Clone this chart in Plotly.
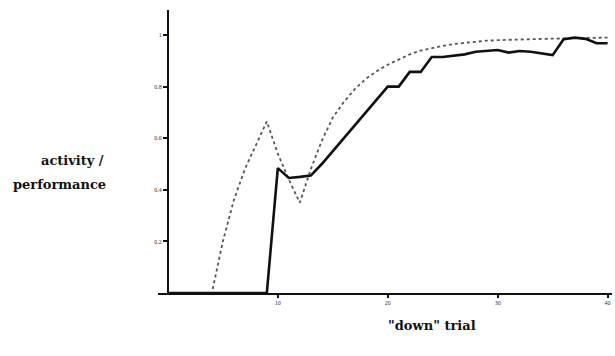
import plotly.graph_objects as go

trials_perf = list(range(0, 41))
performance = [0, 0, 0, 0, 0, 0, 0, 0, 0, 0,
               0.484, 0.446, 0.45, 0.455, 0.50, 0.55, 0.60, 0.65, 0.70, 0.75,
               0.80, 0.80, 0.857, 0.857, 0.915, 0.915, 0.92, 0.925, 0.935, 0.938,
               0.942, 0.932, 0.938, 0.935, 0.928, 0.922, 0.984, 0.99, 0.985, 0.968, 0.968]

trials_act = list(range(0, 41))
activity = [0, 0, 0, 0, 0, 0.2, 0.36, 0.48, 0.57, 0.665,
            0.54, 0.44, 0.35, 0.48, 0.59, 0.68, 0.74, 0.79, 0.83, 0.86,
            0.885, 0.905, 0.925, 0.94, 0.95, 0.958, 0.965, 0.97, 0.975, 0.978,
            0.98, 0.982, 0.983, 0.984, 0.985, 0.986, 0.987, 0.988, 0.989, 0.99, 0.99]

x_ticks = [10, 20, 30, 40]
y_ticks = [0.2, 0.4, 0.6, 0.8, 1]
y_tick_text = ["0.2", "0.4", "0.6", "0.8", "1"]

ink = "#111111"
label_font = dict(family="DejaVu Serif", size=13, color=ink, weight="bold")
fig = go.Figure()
fig.add_trace(go.Scatter(x=trials_act, y=activity, mode="lines",
                         line=dict(color="#555", width=1.8, dash="dot"),
                         showlegend=False))
fig.add_trace(go.Scatter(x=trials_perf, y=performance, mode="lines",
                         line=dict(color=ink, width=2.6),
                         showlegend=False))

xmin, xmax = -0.9, 40.4
fig.update_layout(
    width=615, height=356,
    margin=dict(l=158, r=3, t=10, b=63),
    plot_bgcolor="white", paper_bgcolor="white",
    font=dict(family="Liberation Serif", color=ink),
    xaxis=dict(range=[xmin, xmax], showgrid=False, zeroline=False,
               showline=True, linecolor=ink, linewidth=1.8,
               tickvals=x_ticks, ticks="outside", ticklen=3, tickcolor=ink,
               tickwidth=1.5, tickfont=dict(size=6, color="#333")),
    yaxis=dict(range=[0, 1.097], showgrid=False, zeroline=False,
               anchor="free", position=(0 - xmin) / (xmax - xmin),
               showline=True, linecolor=ink, linewidth=2,
               tickvals=y_ticks, ticktext=y_tick_text, ticks="outside",
               ticklen=4, tickcolor=ink, tickwidth=1.5,
               tickfont=dict(size=6, color="#333")),
    annotations=[
        dict(text="activity /", xref="paper", x=0, xanchor="right", xshift=-52,
             yref="y", y=0.515, yanchor="middle", showarrow=False,
             font=label_font),
        dict(text="performance", xref="paper", x=0, xanchor="right", xshift=-50,
             yref="y", y=0.42, yanchor="middle", showarrow=False,
             font=label_font),
        dict(text="\"down\" trial", xref="x", x=24, xanchor="center",
             yref="paper", y=0, yanchor="middle", yshift=-32, showarrow=False,
             font=label_font),
    ],
)
fig.write_html("out.html")
